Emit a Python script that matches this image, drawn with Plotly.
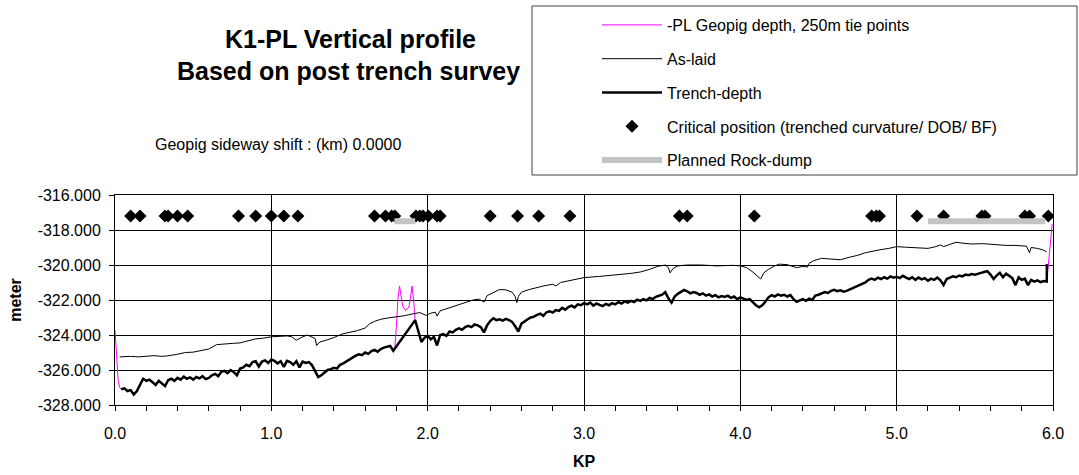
import plotly.graph_objects as go

# ---------------- data ----------------
# Trench-depth, first stretch (KP 0.04 .. 1.78, every 0.02 km)
trench_a = [
    -327.10, -327.05, -327.20, -327.15, -327.40, -327.20, -326.85, -326.50, -326.62, -326.55,
    -326.70, -326.85, -326.62, -326.75, -326.92, -326.58, -326.50, -326.62, -326.45, -326.55,
    -326.38, -326.50, -326.42, -326.55, -326.40, -326.48, -326.35, -326.52, -326.45, -326.30,
    -326.22, -326.35, -326.10, -326.05, -326.18, -326.00, -326.12, -326.30, -325.92, -325.85,
    -325.70, -325.78, -325.55, -325.50, -325.80, -325.52, -325.45, -325.60, -325.40, -325.48,
    -325.62, -325.50, -325.82, -325.48, -325.55, -325.70, -325.50, -325.85, -325.52, -325.60,
    -325.55, -325.72, -326.10, -326.40, -326.30, -326.15, -326.00, -325.95, -325.88, -325.92,
    -325.70, -325.62, -325.50, -325.42, -325.30, -325.18, -325.10, -325.15, -325.00, -325.08,
    -324.92, -324.85, -324.95, -324.80, -324.72, -324.65, -324.62, -324.90,
]
kp_a = [round(0.04 + 0.02 * i, 2) for i in range(len(trench_a))]

# Trench-depth across the untrenched gap
kp_gap = [1.92, 1.96]
trench_gap = [-323.15, -324.40]

# Trench-depth, second stretch (KP 1.98 .. 5.94, every 0.02 km)
trench_b = [
    -324.15, -324.05, -324.25, -324.10, -324.60, -324.00, -323.95, -324.05, -323.80, -323.85,
    -323.70, -323.62, -323.70, -323.55, -323.48, -323.55, -323.40, -323.45, -323.55, -323.85,
    -323.45, -323.20, -323.05, -323.15, -323.10, -323.18, -323.08, -323.15, -323.25, -323.50,
    -323.80, -323.35, -323.20, -323.10, -323.00, -322.95, -322.85, -322.78, -322.90, -322.70,
    -322.65, -322.72, -322.58, -322.62, -322.45, -322.55, -322.40, -322.32, -322.42, -322.25,
    -322.30, -322.18, -322.25, -322.15, -322.32, -322.20, -322.28, -322.35, -322.22, -322.30,
    -322.18, -322.25, -322.12, -322.20, -322.08, -322.15, -322.05, -322.12, -321.98, -322.05,
    -321.95, -322.02, -321.88, -321.95, -321.82, -321.78, -321.70, -321.55, -321.90, -322.15,
    -321.80, -321.65, -321.55, -321.42, -321.50, -321.62, -321.55, -321.60, -321.70, -321.62,
    -321.75, -321.68, -321.80, -321.72, -321.85, -321.78, -321.82, -321.75, -321.88, -321.80,
    -321.95, -321.85, -321.92, -322.00, -321.95, -322.15, -322.30, -322.42, -322.30, -322.10,
    -321.85, -321.72, -321.80, -321.68, -321.75, -321.70, -321.80, -321.72, -321.95, -322.10,
    -322.02, -321.95, -322.05, -321.92, -322.00, -321.75, -321.70, -321.62, -321.55, -321.60,
    -321.48, -321.42, -321.50, -321.45, -321.52, -321.48, -321.40, -321.30, -321.22, -321.15,
    -321.05, -321.00, -320.85, -320.78, -320.85, -320.72, -320.80, -320.70, -320.78, -320.65,
    -320.72, -320.68, -320.75, -320.62, -320.72, -320.80, -320.70, -320.85, -320.72, -320.82,
    -320.75, -320.90, -320.78, -320.85, -320.72, -320.88, -321.15, -320.80, -320.72, -320.65,
    -320.70, -320.60, -320.65, -320.55, -320.58, -320.52, -320.55, -320.48, -320.45, -320.40,
    -320.35, -320.55, -320.80, -320.60, -320.45, -320.70, -320.50, -320.62, -320.75, -321.15,
    -320.70, -320.85, -320.78, -321.15, -320.85, -320.95, -320.88, -320.98, -320.92,
]
kp_b = [round(1.98 + 0.02 * i, 2) for i in range(len(trench_b))]

# Trench-depth at the end of the line
kp_end = [5.96, 5.961]
trench_end = [-320.95, -319.95]

# Geopig depth where it departs from the trench profile
kp_pig_start = [0.00, 0.01, 0.02, 0.03]
pig_start = [-323.70, -325.30, -326.60, -327.00]
kp_pig_tie = [1.79, 1.80, 1.81, 1.82, 1.83, 1.84, 1.86, 1.88, 1.89, 1.90, 1.91, 1.92, 1.96]
pig_tie = [-324.70, -323.50, -321.90, -321.20, -321.90, -322.35, -322.60, -322.40, -321.90,
           -321.20, -322.00, -323.20, -324.40]
kp_pig_end = [5.96, 5.995]
pig_end = [-320.95, -317.65]

# As-laid profile
kp_aslaid = [
    0.03, 0.10, 0.15, 0.20, 0.25, 0.30, 0.33, 0.40, 0.45, 0.50, 0.55, 0.60, 0.65, 0.70, 0.75,
    0.80, 0.85, 0.90, 0.95, 1.00, 1.05, 1.10, 1.13, 1.16, 1.19, 1.23, 1.26, 1.28, 1.29, 1.31,
    1.35, 1.40, 1.45, 1.50, 1.55, 1.60, 1.63, 1.66, 1.70, 1.75, 1.80, 1.85, 1.90, 1.95, 1.99,
    2.02, 2.05, 2.06, 2.08, 2.12, 2.16, 2.20, 2.25, 2.29, 2.33, 2.36, 2.38, 2.42, 2.46, 2.50,
    2.54, 2.56, 2.57, 2.58, 2.60, 2.65, 2.70, 2.75, 2.80, 2.82, 2.85, 2.90, 2.95, 3.00, 3.10,
    3.20, 3.30, 3.36, 3.42, 3.47, 3.52, 3.54, 3.55, 3.57, 3.60, 3.66, 3.75, 3.85, 3.95, 4.00,
    4.04, 4.08, 4.11, 4.13, 4.15, 4.18, 4.22, 4.25, 4.30, 4.33, 4.36, 4.40, 4.43, 4.44, 4.47,
    4.52, 4.58, 4.64, 4.70, 4.75, 4.80, 4.85, 4.90, 4.95, 5.00, 5.05, 5.10, 5.15, 5.20, 5.25,
    5.28, 5.30, 5.35, 5.38, 5.42, 5.48, 5.55, 5.60, 5.65, 5.70, 5.75, 5.80, 5.83, 5.85, 5.86,
    5.90, 5.94, 5.96,
]
aslaid = [
    -325.25, -325.22, -325.25, -325.20, -325.18, -325.22, -325.20, -325.10, -325.00, -324.98,
    -324.90, -324.80, -324.55, -324.50, -324.48, -324.45, -324.32, -324.22, -324.18, -324.10,
    -324.08, -324.05, -324.10, -324.30, -324.15, -324.00, -324.12, -324.20, -324.60, -324.40,
    -324.30, -324.15, -323.95, -323.85, -323.75, -323.60, -323.35, -323.22, -323.10, -323.02,
    -322.98, -322.90, -322.80, -322.72, -322.88, -322.75, -322.70, -322.92, -322.62, -322.50,
    -322.42, -322.30, -322.12, -322.00, -321.95, -322.12, -321.75, -321.58, -321.40, -321.42,
    -321.55, -321.80, -322.15, -321.80, -321.55, -321.40, -321.28, -321.18, -321.10, -321.20,
    -321.00, -320.90, -320.82, -320.72, -320.65, -320.58, -320.48, -320.40, -320.25, -320.08,
    -320.00, -320.15, -320.45, -320.20, -320.05, -320.00, -320.00, -320.05, -320.02, -320.05,
    -320.15, -320.40, -320.65, -320.80, -320.45, -320.25, -320.05, -319.95, -319.98, -320.05,
    -320.15, -320.08, -320.12, -319.90, -319.75, -319.62, -319.65, -319.70, -319.55, -319.45,
    -319.30, -319.20, -319.12, -319.05, -318.95, -318.98, -319.00, -319.00, -319.05, -318.95,
    -318.85, -318.95, -318.78, -318.70, -318.75, -318.80, -318.78, -318.82, -318.85, -318.88,
    -318.88, -318.90, -318.92, -319.30, -319.00, -319.05, -319.15, -319.25,
]

# Critical positions (trenched curvature / DOB / BF)
kp_critical = [0.10, 0.16, 0.32, 0.34, 0.40, 0.465, 0.79, 0.90, 1.00, 1.08, 1.17, 1.66, 1.73,
               1.77, 1.79, 1.925, 1.95, 1.97, 2.005, 2.06, 2.08, 2.40, 2.575, 2.71, 2.91, 3.61,
               3.66, 4.09, 4.84, 4.87, 4.89, 5.13, 5.30, 5.545, 5.565, 5.82, 5.85, 5.97]
critical_level = -317.2

# Planned rock-dump stretches (start KP, end KP)
rock_dump = [(1.787, 1.92), (5.20, 5.95)]
rock_dump_level = -317.5

y_ticks = [-328, -326, -324, -322, -320, -318, -316]

# ---------------- assemble series ----------------
kp_trench = kp_a + kp_gap + kp_b + kp_end
trench = trench_a + trench_gap + trench_b + trench_end

kp_pig = kp_pig_start + kp_a + kp_pig_tie + kp_b + kp_pig_end
pig = pig_start + trench_a + pig_tie + trench_b + pig_end

rd_x, rd_y = [], []
for start, end in rock_dump:
    rd_x += [start, end, None]
    rd_y += [rock_dump_level, rock_dump_level, None]

FONT = "Liberation Sans, Arial, sans-serif"

fig = go.Figure()
fig.add_trace(go.Scatter(
    x=kp_pig, y=pig, mode="lines", name="-PL Geopig depth, 250m tie points",
    line=dict(color="#ff00ff", width=1), legendgroup="g1"))
fig.add_trace(go.Scatter(
    x=kp_aslaid, y=aslaid, mode="lines", name="As-laid",
    line=dict(color="#000000", width=1), legendgroup="g2"))
fig.add_trace(go.Scatter(
    x=kp_trench, y=trench, mode="lines", name="Trench-depth",
    line=dict(color="#000000", width=2.5), legendgroup="g3"))
fig.add_trace(go.Scatter(
    x=kp_critical, y=[critical_level] * len(kp_critical), mode="markers",
    name="Critical position (trenched curvature/ DOB/ BF)",
    marker=dict(symbol="diamond", size=10, color="#000000"), legendgroup="g4"))
fig.add_trace(go.Scatter(
    x=rd_x, y=rd_y, mode="lines", name="Planned Rock-dump",
    line=dict(color="#c4c4c4", width=6), legendgroup="g5"))

# Legend frame
fig.add_shape(type="rect", xref="paper", yref="paper",
              x0=(532 - 115) / 938, x1=(1077 - 115) / 938,
              y0=(405 - 175) / 210, y1=(405 - 6) / 210,
              line=dict(color="#404040", width=1), fillcolor="rgba(0,0,0,0)")

fig.add_annotation(text="<b>K1-PL Vertical profile</b>", xref="paper", yref="paper",
                   x=(350 - 115) / 938, y=(405 - 39) / 210, showarrow=False,
                   xanchor="center", yanchor="middle", font=dict(size=25, color="black"))
fig.add_annotation(text="<b>Based on post trench survey</b>", xref="paper", yref="paper",
                   x=(348 - 115) / 938, y=(405 - 71) / 210, showarrow=False,
                   xanchor="center", yanchor="middle", font=dict(size=25, color="black"))
fig.add_annotation(text="Geopig sideway shift : (km) 0.0000", xref="paper", yref="paper",
                   x=(153 - 115) / 938, y=(405 - 144) / 210, showarrow=False,
                   xanchor="left", yanchor="middle", font=dict(size=16, color="black"))

fig.update_layout(
    width=1079, height=475,
    margin=dict(l=115, r=26, t=195, b=70, autoexpand=False),
    paper_bgcolor="white", plot_bgcolor="white",
    font=dict(family=FONT, size=16, color="black"),
    showlegend=True,
    legend=dict(x=(597 - 115) / 938, y=(405 - 8) / 210, xanchor="left", yanchor="top",
                bgcolor="rgba(0,0,0,0)", borderwidth=0, itemwidth=60,
                tracegroupgap=10, font=dict(size=16), traceorder="grouped",
                itemclick=False),
)
fig.update_xaxes(
    range=[0, 6], tickmode="linear", tick0=0, dtick=1, tickformat=".1f",
    showgrid=True, gridcolor="black", gridwidth=1,
    showline=True, linecolor="black", linewidth=1, mirror=True,
    ticks="outside", ticklen=5, tickcolor="black", zeroline=False,
    ticklabelstandoff=9,
    minor=dict(tick0=0, dtick=0.2, ticks="outside", ticklen=5, tickcolor="black",
               tickwidth=1, showgrid=False),
    title=dict(text="KP", font=dict(size=16, weight="bold"), standoff=14),
    tickfont=dict(size=16),
)
fig.update_yaxes(
    range=[-328, -316], tickvals=y_ticks, ticktext=[f"{v:.3f}" for v in y_ticks],
    showgrid=True, gridcolor="black", gridwidth=1,
    showline=True, linecolor="black", linewidth=1, mirror=True,
    ticks="outside", ticklen=5, tickcolor="black", zeroline=False,
    ticklabelstandoff=5,
    title=dict(text="meter", font=dict(size=16, weight="bold"), standoff=12),
    tickfont=dict(size=16),
)

fig.write_html("out.html")
